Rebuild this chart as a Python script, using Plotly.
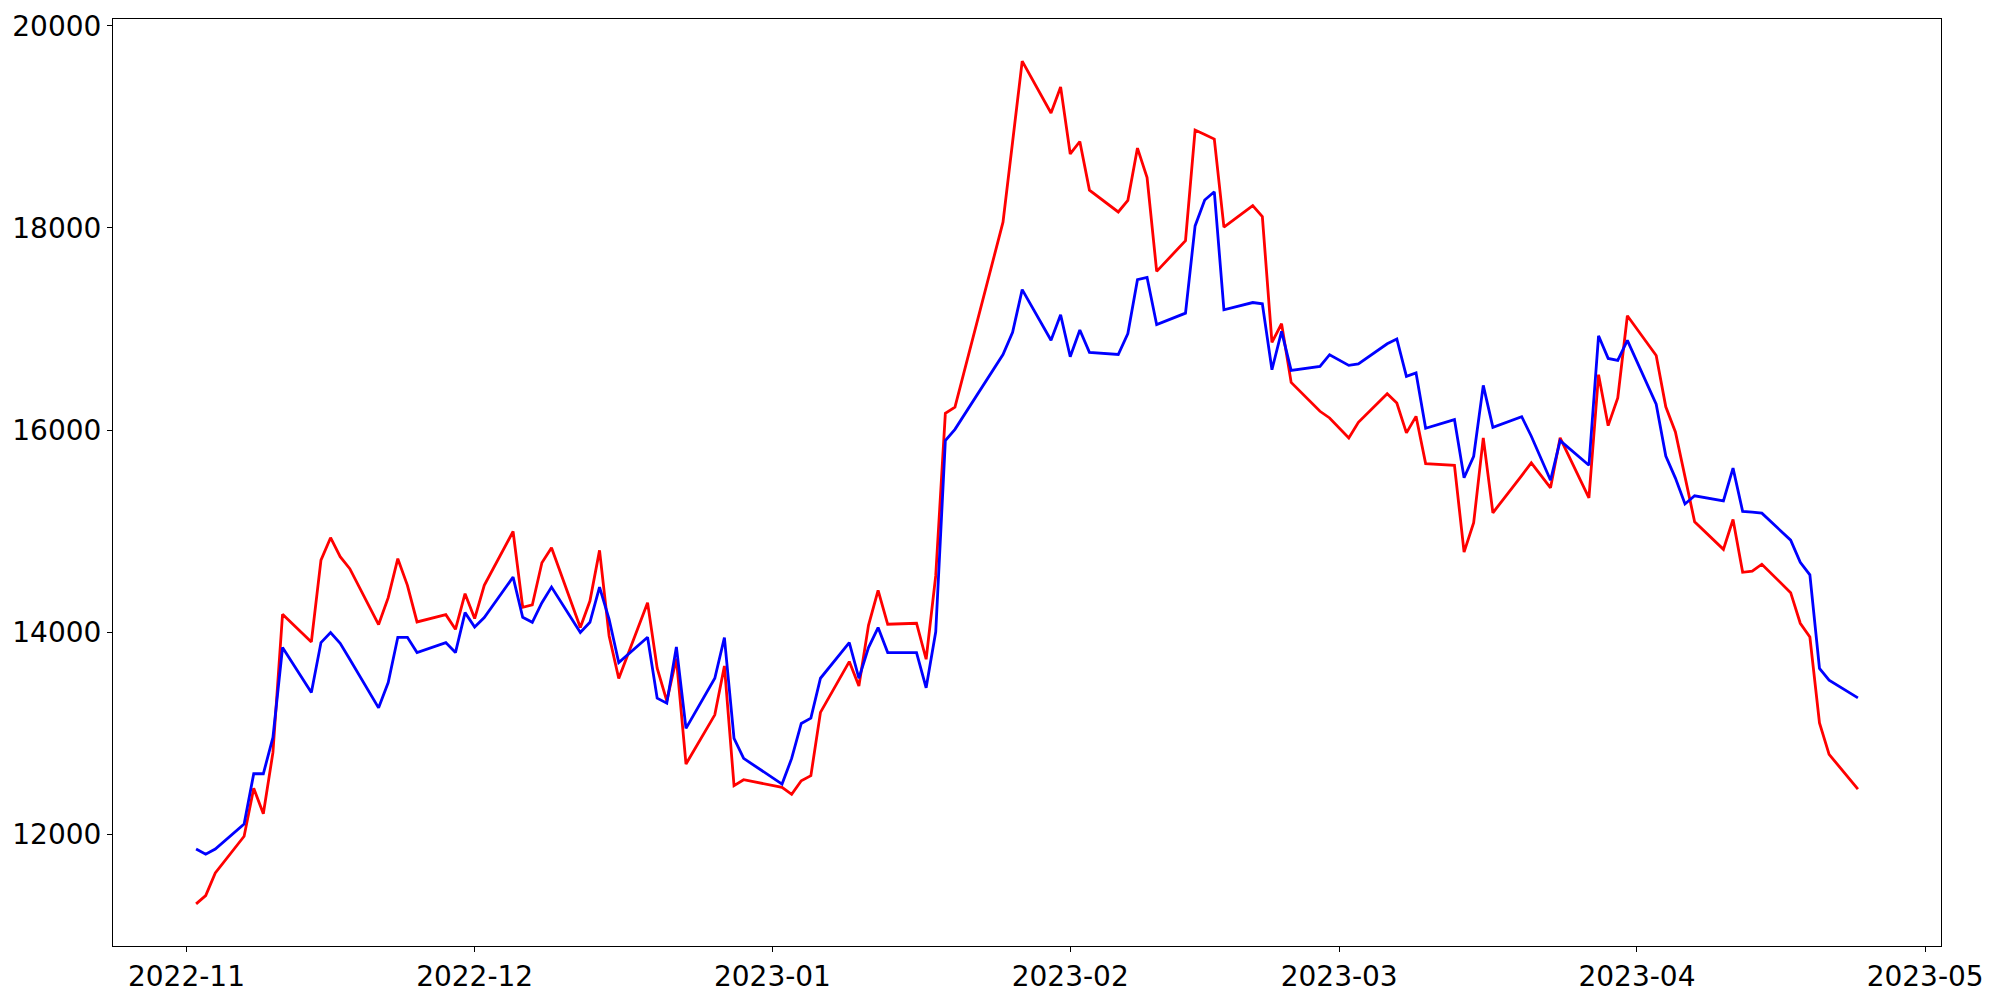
import pandas as pd
import plotly.graph_objects as go

# trading calendar: weekdays Nov 2 2022 - Apr 24 2023, minus market holidays
start_date = "2022-11-02"
end_date = "2023-04-24"
holidays = ["2022-12-30", "2023-01-23", "2023-01-24", "2023-03-01"]

# red series, by month
red_nov = [11313, 11395, 11619, 11982, 12456, 12205, 12811, 14178, 13904, 14714, 14935,
           14747, 14629, 14076, 14342, 14728, 14464, 14102, 14174, 14029, 14382]
red_dec = [14135, 14464, 14997, 14247, 14270, 14688, 14836, 14046, 14309, 14810, 13963,
           13542, 14293, 13644, 13321, 13740, 12696, 13183, 13667, 12482, 12541]
red_jan = [12466, 12397, 12531, 12581, 13207, 13710, 13469, 14069, 14415, 14079,
           14089, 13733, 14560, 16165, 16227, 18057, 18850, 19650, 19137, 19395]
red_feb = [18732, 18855, 18374, 18158, 18273, 18790, 18498, 17570, 17874, 18968,
           18925, 18879, 18007, 18220, 18112, 16867, 17052, 16472, 16186, 16120]
red_mar = [15923, 16077, 16360, 16268, 15972, 16136, 15669, 15652, 14793, 15083, 15923,
           15182, 15550, 15676, 15553, 15429, 15923, 15330, 16548, 16044, 16318, 17131]
red_apr = [16738, 16230, 15982, 15543, 15094, 14820, 15116, 14593, 14604, 14673,
           14392, 14089, 13953, 13103, 12792, 12449]

# blue series, by month
blue_nov = [11856, 11804, 11856, 12103, 12600, 12600, 12960, 13849, 13404, 13898, 13997,
            13891, 13733, 13252, 13503, 13950, 13950, 13799, 13898, 13799, 14194]
blue_dec = [14052, 14145, 14546, 14148, 14099, 14293, 14447, 13997, 14099, 14447, 14128,
            13700, 13950, 13348, 13298, 13855, 13049, 13545, 13947, 12950, 12752]
blue_jan = [12498, 12752, 13098, 13150, 13545, 13898, 13545, 13849, 14046, 13799,
            13799, 13450, 14005, 15896, 16007, 16748, 16968, 17390, 16889, 17140]
blue_feb = [16726, 16990, 16769, 16748, 16955, 17488, 17510, 17043, 17157, 18020,
            18276, 18358, 17190, 17262, 17249, 16597, 16976, 16590, 16630, 16746]
blue_mar = [16640, 16654, 16854, 16901, 16531, 16565, 16018, 16104, 15528, 15741, 16442,
            16027, 16133, 15939, 15721, 15504, 15896, 15652, 16933, 16709, 16689, 16887]
blue_apr = [16256, 15744, 15525, 15269, 15350, 15299, 15624, 15196, 15189, 15178,
            14911, 14692, 14568, 13643, 13527, 13351]

dates = pd.bdate_range(start_date, end_date)
dates = dates[~dates.isin(pd.to_datetime(holidays))]

red = red_nov + red_dec + red_jan + red_feb + red_mar + red_apr
blue = blue_nov + blue_dec + blue_jan + blue_feb + blue_mar + blue_apr

# matplotlib-like 5% margins
span = dates[-1] - dates[0]
x_range = [dates[0] - span * 0.05, dates[-1] + span * 0.05]
lo, hi = min(red + blue), max(red + blue)
y_range = [lo - (hi - lo) * 0.05, hi + (hi - lo) * 0.05]

fig = go.Figure()
fig.add_trace(go.Scatter(x=dates, y=red, mode='lines', line=dict(color='#ff0000', width=2.8)))
fig.add_trace(go.Scatter(x=dates, y=blue, mode='lines', line=dict(color='#0000ff', width=2.8)))

axis_style = dict(showline=True, linecolor='black', linewidth=1.1, mirror=True,
                  showgrid=False, zeroline=False, ticks='outside', ticklen=5,
                  tickwidth=1.1, tickcolor='black', automargin=False,
                  tickfont=dict(family='DejaVu Sans', size=28, color='black'))

# page body adds 8px offset, margins compensate
fig.update_layout(
    width=2000, height=1000,
    template='none',
    paper_bgcolor='white', plot_bgcolor='white',
    showlegend=False,
    margin=dict(l=105, r=67, t=11, b=62),
    xaxis=dict(range=x_range, dtick='M1', tickformat='%Y-%m',
               tick0='2022-11-01', **axis_style),
    yaxis=dict(range=y_range, tickmode='array',
               tickvals=[12000, 14000, 16000, 18000, 20000],
               ticktext=['12000', '14000', '16000', '18000', '20000'], **axis_style),
)

fig.write_html("out.html")
